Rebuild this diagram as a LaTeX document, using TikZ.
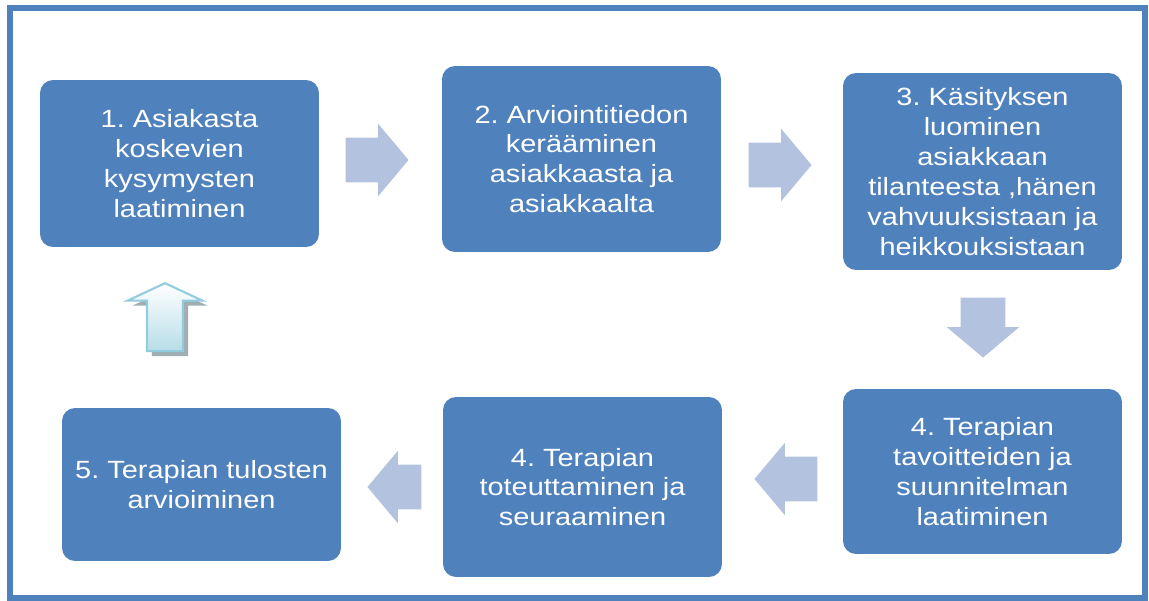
\documentclass[tikz,border=0pt]{standalone}
\usepackage{fontspec}
\setmainfont{Liberation Sans}[FakeStretch=1.16]
\usetikzlibrary{shapes.arrows,shadows}

\definecolor{laatikko}{HTML}{4F81BD}
\definecolor{nuolivari}{HTML}{B3C3DF}
\definecolor{ylosreuna}{HTML}{93CDDD}
\definecolor{ylosalas}{HTML}{B7DDE8}

\tikzset{
	vaihe/.style={rectangle, rounded corners=0.26cm, fill=laatikko, text=white,
		align=center, minimum width=5.58cm, inner sep=2pt,
		font=\fontsize{14.2}{17}\selectfont},
	nuoli/.style={single arrow, fill=nuolivari, draw=none, inner sep=0pt,
		single arrow head extend=0.28cm, anchor=tip,
		single arrow tip angle=100, minimum height=1.26cm},
	vaaka/.style={inner ysep=0.44cm},
	pysty/.style={inner xsep=0.44cm},
}

\begin{document}
\frenchspacing
\begin{tikzpicture}[x=0.02cm, y=-0.02cm]
	\useasboundingbox (0,0) rectangle (1149,601);
	\draw[laatikko, line width=3.4pt] (10,8) rectangle (1145,598);
	% vaiheet
	\node[vaihe, minimum height=3.34cm] (vaihe1) at (179.5,163.5) {1. Asiakasta\\koskevien\\kysymysten\\laatiminen};
	\node[vaihe, minimum height=3.72cm] (vaihe2) at (581.5,159) {2. Arviointitiedon\\kerääminen\\asiakkaasta ja\\asiakkaalta};
	\node[vaihe, minimum height=3.94cm] (vaihe3) at (982.5,171.5) {3. Käsityksen\\luominen\\asiakkaan\\tilanteesta ,hänen\\vahvuuksistaan ja\\heikkouksistaan};
	\node[vaihe, minimum height=3.3cm] (vaihe4) at (982.5,471.5) {4. Terapian\\tavoitteiden ja\\suunnitelman\\laatiminen};
	\node[vaihe, minimum height=3.6cm] (vaihe5) at (582.5,487) {4. Terapian\\toteuttaminen ja\\seuraaminen};
	\node[vaihe, minimum height=3.06cm] (vaihe6) at (201.5,484.5) {5. Terapian tulosten\\arvioiminen};
	% nuolet
	\node[nuoli, vaaka] (nuoli1) at (409,160) {};
	\node[nuoli, vaaka] (nuoli2) at (812,165) {};
	\node[nuoli, pysty, shape border rotate=270, minimum height=1.2cm] (nuoli3) at (983,358) {};
	\node[nuoli, vaaka, shape border rotate=180] (nuoli4) at (754,479) {};
	\node[nuoli, vaaka, shape border rotate=180, minimum height=1.08cm] (nuoli5) at (367,487) {};
	\node[single arrow, shape border rotate=90, anchor=tip, draw=ylosreuna, line width=1.2pt,
		top color=white, bottom color=ylosalas, inner sep=0pt, inner xsep=0.34cm,
		single arrow head extend=0.39cm, single arrow tip angle=130, minimum height=1.36cm,
		drop shadow={shadow xshift=0.1cm, shadow yshift=-0.1cm, fill=gray!60!ylosalas, opacity=0.9}]
		(takaisin) at (165,282) {};
\end{tikzpicture}
\end{document}
